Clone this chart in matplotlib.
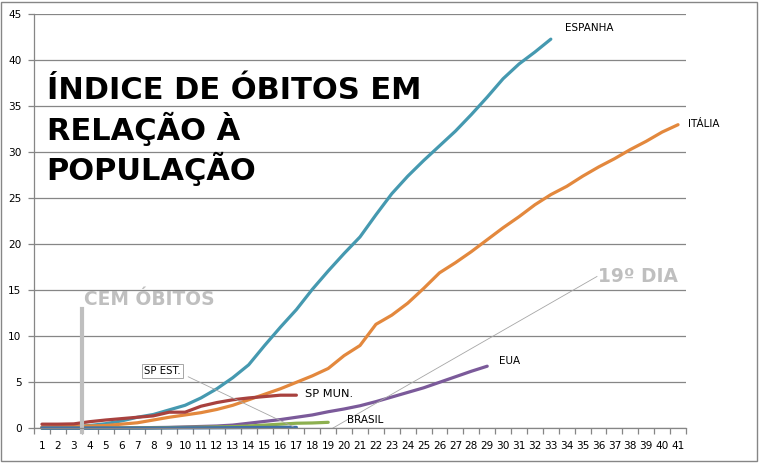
import matplotlib
matplotlib.use("Agg")
import matplotlib.pyplot as plt
from matplotlib.patches import Rectangle

# deaths per population, by day since the 100th death
espanha = [0.1, 0.15, 0.2, 0.3, 0.5, 0.8, 1.2, 1.5, 2.0, 2.5, 3.3, 4.3, 5.5, 6.9,
           9.0, 11.0, 12.9, 15.1, 17.1, 19.0, 20.8, 23.2, 25.5, 27.4, 29.1, 30.7,
           32.3, 34.1, 36.0, 38.0, 39.6, 40.9, 42.3]
italia = [0.15, 0.18, 0.2, 0.25, 0.3, 0.45, 0.6, 0.9, 1.2, 1.45, 1.7, 2.05, 2.5,
          3.1, 3.7, 4.3, 5.0, 5.7, 6.5, 7.9, 9.0, 11.3, 12.3, 13.6, 15.2, 16.9,
          18.0, 19.2, 20.5, 21.8, 23.0, 24.3, 25.4, 26.3, 27.4, 28.4, 29.3, 30.3,
          31.2, 32.2, 33.0]
eua = [0.05, 0.05, 0.05, 0.05, 0.05, 0.05, 0.05, 0.08, 0.1, 0.15, 0.2, 0.25,
       0.35, 0.55, 0.75, 0.95, 1.2, 1.45, 1.8, 2.1, 2.45, 2.9, 3.4, 3.9, 4.4,
       5.0, 5.6, 6.2, 6.75]
sp_mun = [0.45, 0.45, 0.48, 0.72, 0.9, 1.05, 1.2, 1.35, 1.75, 1.75, 2.4, 2.8,
          3.1, 3.3, 3.45, 3.6, 3.6]
brasil = [0.01, 0.01, 0.02, 0.02, 0.03, 0.04, 0.05, 0.06, 0.08, 0.1, 0.12, 0.15,
          0.18, 0.25, 0.35, 0.45, 0.55, 0.58, 0.65]
sp_est = [0.01, 0.01, 0.01, 0.01, 0.02, 0.02, 0.03, 0.03, 0.04, 0.05, 0.05,
          0.06, 0.07, 0.08, 0.09, 0.1, 0.1]

n_days = 41
yticks = [0, 5, 10, 15, 20, 25, 30, 35, 40, 45]

W, H = 761, 463
fig = plt.figure(figsize=(W / 100, H / 100), dpi=100)
ax = fig.add_axes([34 / W, (H - 428.3) / H, (686 - 34) / W, (428.3 - 14.3) / H])

grey = "#868686"
ax.set_xlim(0.5, n_days + 0.5)
ax.set_ylim(0, 45)
ax.set_yticks(yticks)
ax.yaxis.grid(True, color=grey, lw=0.9)
ax.set_axisbelow(True)
for s in ["top", "right"]:
    ax.spines[s].set_visible(False)
for s in ["left", "bottom"]:
    ax.spines[s].set_color(grey)
    ax.spines[s].set_linewidth(0.9)

days = list(range(1, n_days + 1))
ax.set_xticks(days)
ax.set_xticklabels([str(d) for d in days])
ax.set_xticks([d + 0.5 for d in range(0, n_days + 1)], minor=True)
ax.tick_params(axis="x", which="major", length=0, pad=9, labelsize=7.6)
ax.tick_params(axis="x", which="minor", length=4, color=grey, width=0.9)
ax.tick_params(axis="y", length=4, color=grey, width=0.9, pad=5, labelsize=7.6)

series = [
    (espanha, "#4599B0"),
    (italia, "#E3883D"),
    (eua, "#7B5A9A"),
    (sp_mun, "#A8413E"),
    (brasil, "#8DB04F"),
    (sp_est, "#3F6FA8"),
]
for vals, col in series:
    ax.plot(range(1, len(vals) + 1), vals, color=col, lw=2.3,
            solid_capstyle="round", clip_on=False)

# 100 deaths marker
ax.plot([3.5, 3.5], [-0.35, 13.0], color="#BFBFBF", lw=3, clip_on=False)
ax.text(3.64, 13.95, "CEM ÓBITOS", color="#BFBFBF", fontsize=13.4,
        fontweight="bold", va="center", ha="left")

# 19th day leader
ax.plot([19.3, 35.9], [0.03, 16.5], color="#A6A6A6", lw=0.6)
ax.text(35.97, 16.55, "19º DIA", color="#BFBFBF", fontsize=13.4,
        fontweight="bold", va="center", ha="left")

# series labels
lab = dict(fontsize=7.5, color="black", va="center", ha="left")
ax.text(33.9, 43.5, "ESPANHA", **lab)
ax.text(41.6, 33.1, "ITÁLIA", clip_on=False, **lab)
ax.text(29.75, 7.3, "EUA", **lab)
ax.text(17.54, 3.73, "SP MUN.", fontsize=8.2, color="black", va="center", ha="left")
ax.text(20.19, 0.9, "BRASIL", **lab)
ax.plot([10.2, 16.8], [5.6, 0.17], color="#A6A6A6", lw=0.6)
ax.text(7.42, 6.23, "SP EST.", fontsize=7.3, color="black", va="center", ha="left",
        bbox=dict(boxstyle="square,pad=0.2", fc="white", ec="#A6A6A6", lw=0.7))

# title
ax.text(1.3, 38.3, "ÍNDICE DE ÓBITOS EM\nRELAÇÃO À\nPOPULAÇÃO", fontsize=22,
        fontweight="bold", color="black", va="top", ha="left", linespacing=1.23)

fig.patches.append(Rectangle((1 / W, 2 / H), 756 / W, 459 / H, transform=fig.transFigure,
                             fill=False, ec=grey, lw=1))

fig.savefig("out.png", dpi=100)
